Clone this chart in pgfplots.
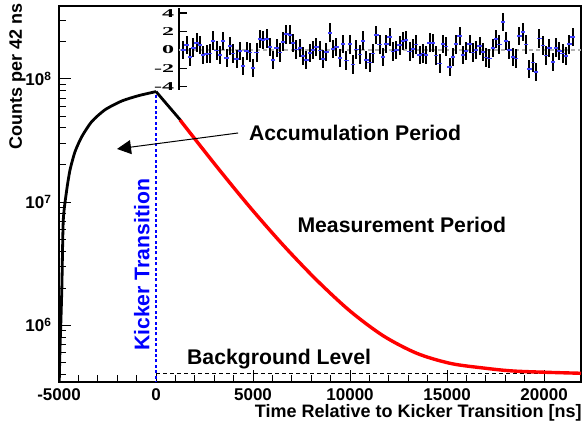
\documentclass[border=0pt]{standalone}
\usepackage{pgfplots}
\pgfplotsset{compat=1.18}
\usepackage{fontspec}
\setmainfont{Liberation Sans}
\newfontfamily\serif{Liberation Serif}
\usetikzlibrary{arrows.meta}
\definecolor{sdblue}{RGB}{64,64,255}

% residuals of the fit (in standard deviations)
\pgfplotstableread{
x y
1 0
2 0.54
3 -0.76
4 0.25
5 0.79
6 0.54
7 -0.58
8 -0.47
9 -0.40
10 1.0
11 -0.07
12 -0.54
13 0.94
14 -0.9
15 0.43
16 -0.40
17 -1.0
18 -0.14
19 -1.73
20 -0.11
21 -0.29
22 -1.98
23 -0.29
24 1.19
25 1.05
26 1.22
27 0.32
28 -1.12
29 0.18
30 -0.29
31 0.9
32 1.69
33 1.66
34 0.72
35 0.04
36 0.22
37 -0.65
38 -1.08
39 -0.36
40 0
41 0.29
42 -0.07
43 -1.0
44 -0.25
45 1.87
46 0.07
47 0.29
48 -0.9
49 0.65
50 -1.15
51 0.61
52 -1.59
53 0.04
54 -0.5
55 1.0
56 -1.12
57 -1.37
58 -0.4
59 1.59
60 0.58
61 -0.79
62 0.65
63 1.41
64 -0.18
65 -0.04
66 0.5
67 0.94
68 1.08
69 -0.18
70 0.14
71 0.58
72 -0.58
73 -0.4
74 -0.58
75 0.79
76 0.76
77 -0.61
78 -1.48
79 0.65
80 0.36
81 -1.84
82 -0.79
83 0.61
84 1.51
85 -0.58
86 -0.14
87 0.65
88 -0.29
89 0
90 0.4
91 -0.25
92 -0.83
93 -0.94
94 0.18
95 1.19
96 0.58
97 3.06
98 0.94
99 -0.04
100 -0.76
101 -0.94
102 1.51
103 1.95
104 0.58
105 -2.09
106 -1.37
107 -2.41
108 1.23
109 0.47
110 -0.61
111 0.18
112 -1.33
113 0.25
114 -0.11
115 -0.4
116 -0.68
117 0.61
118 1.41
}\residuals

\begin{document}
\begin{tikzpicture}
\path[use as bounding box] (-29.5pt,-19.5pt) rectangle (263pt,191pt);
\begin{axis}[
  scale only axis, width=261pt, height=188pt,
  xmin=-5000, xmax=21900,
  ymode=log, ymin=3.45e5, ymax=3.92e8,
  xtick={-5000,0,5000,10000,15000,20000},
  xticklabels={-5000,0,5000,10000,15000,20000},
  scaled x ticks=false,
  minor x tick num=4,
  ytick={1e6,1e7,1e8},
  yticklabels={{10\textsuperscript{6}},{10\textsuperscript{7}},{10\textsuperscript{8}}},
  minor ytick={4e5,5e5,6e5,7e5,8e5,9e5,2e6,3e6,4e6,5e6,6e6,7e6,8e6,9e6,2e7,3e7,4e7,5e7,6e7,7e7,8e7,9e7,2e8,3e8},
  xtick pos=left, ytick pos=left,
  tick align=inside,
  major tick length=6pt, minor tick length=3.5pt,
  tick style={black, line width=0.5pt},
  ticklabel style={font=\fontsize{8.5}{10}\selectfont\bfseries},
  xlabel={Time Relative to Kicker Transition [ns]},
  ylabel={Counts per 42 ns},
  label style={font=\fontsize{9}{11}\selectfont\bfseries},
  xlabel style={at={(axis description cs:1.002,-0.0585)}, anchor=north east, inner sep=0pt},
  ylabel style={at={(axis description cs:-0.0958,1.007)}, anchor=north east, inner sep=0pt},
  axis line style={line width=0.7pt},
]
\addplot[black, line width=0.6pt, dash pattern=on 2pt off 1.5pt] coordinates {(0,4.05e5) (21900,4.05e5)};
\addplot[blue, line width=0.8pt, dash pattern=on 1.5pt off 1.2pt] coordinates {(0,3e5) (0,7.9e7)};
\addplot[black, line width=1.4pt, smooth, tension=0.4] coordinates {
  (-4995,3.0e5) (-4950,6.3e5) (-4900,1.1e6) (-4850,2.1e6) (-4779,7.15e6)
  (-4603,1.25e7) (-4433,1.82e7) (-4176,2.56e7) (-3830,3.39e7) (-3315,4.5e7)
  (-2629,5.62e7) (-1768,6.62e7) (-912,7.31e7) (0,7.9e7)};
\addplot[black, line width=1.4pt] coordinates {(0,7.9e7) (1300,4.55e7)};
\addplot[red, line width=1.7pt, smooth] coordinates {
  (1237,4.64e7) (3129,1.94e7) (4845,9.06e6) (6562,4.45e6) (8279,2.32e6)
  (10000,1.30e6) (11717,8.17e5) (13438,5.9e5) (15155,4.89e5) (16873,4.48e5)
  (18594,4.22e5) (21900,4.06e5)};
\draw[-{Triangle[length=7pt,width=7pt]}, line width=0.5pt] (axis cs:4227,3.64e7) -- (axis cs:-2010,2.7e7);
\node[font=\fontsize{10.6}{12}\selectfont\bfseries] at (axis cs:10258,3.64e7) {Accumulation Period};
\node[font=\fontsize{10.6}{12}\selectfont\bfseries] at (axis cs:12666,6.5e6) {Measurement Period};
\node[font=\fontsize{10.6}{12}\selectfont\bfseries] at (axis cs:6341,5.26e5) {Background Level};
\node[font=\fontsize{10.6}{12}\selectfont\bfseries, text=blue, rotate=90] at (axis cs:-737,3.08e6) {Kicker Transition};
\end{axis}

\begin{axis}[
  at={(60pt,146pt)}, anchor=south west,
  scale only axis, width=201pt, height=41pt,
  xmin=-0.3, xmax=120.5, ymin=-4.35, ymax=4.55,
  axis x line=none, axis y line=left,
  axis line style={-, line width=1pt},
  ytick={-4,-2,0,2,4},
  yticklabels={-4,-2,0,2,4},
  minor ytick={},
  tick align=inside,
  major tick length=4pt,
  ytick style={black, line width=0.6pt},
  yticklabel style={font=\serif\bfseries\fontsize{6}{7}\selectfont, xscale=2, inner sep=1pt},
]
\addplot[gray!60, line width=0.6pt, dash pattern=on 2pt off 1.5pt] coordinates {(-0.3,0) (120.5,0)};
\addplot[draw=none, mark=none,
  error bars/.cd, y dir=both, y fixed=1, error mark=none,
  error bar style={draw=black, line width=1pt}] table {\residuals};
\addplot[only marks, mark=-, mark size=1.1pt, mark options={sdblue, line width=0.9pt}] table {\residuals};
\node[font=\serif\bfseries\fontsize{7}{8}\selectfont] at (axis description cs:-0.082,0.5) {SD};
\end{axis}
\end{tikzpicture}
\end{document}
